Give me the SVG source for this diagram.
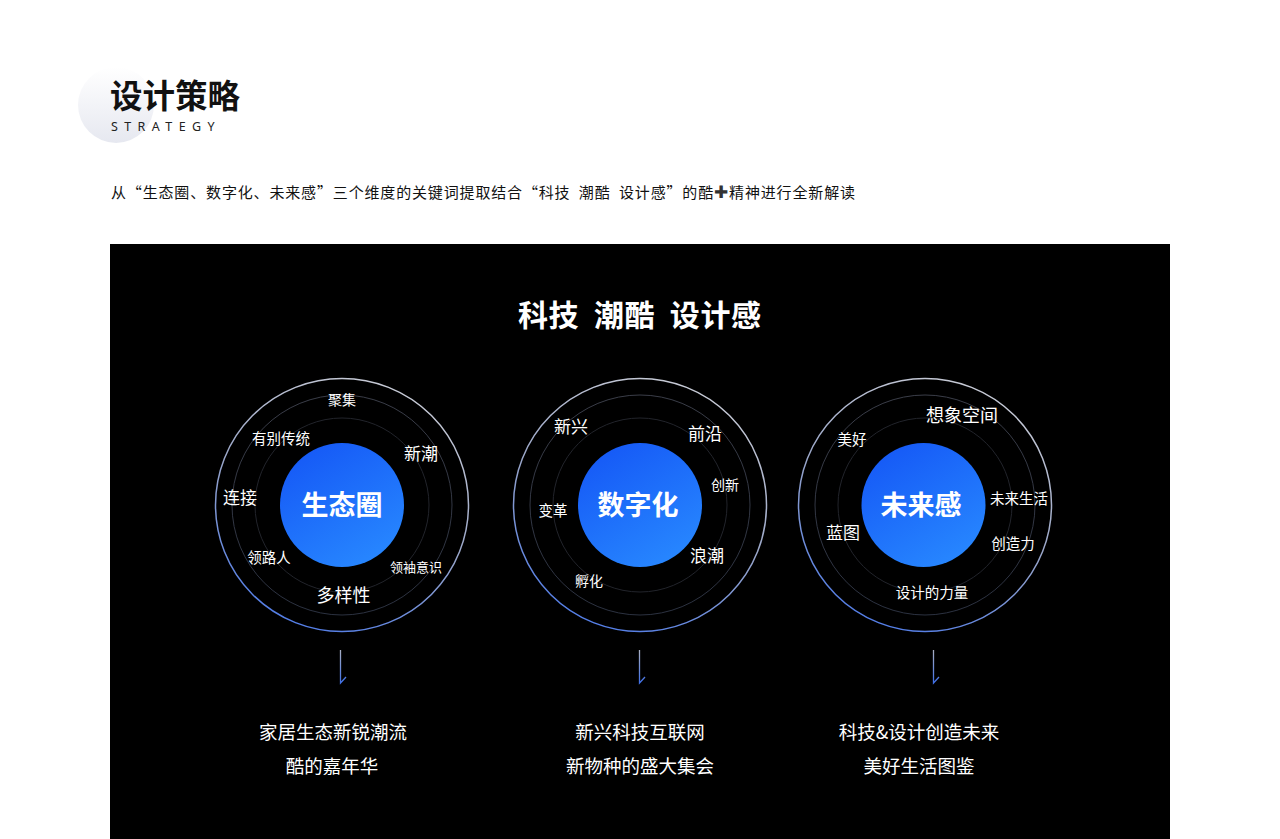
<svg xmlns="http://www.w3.org/2000/svg" width="1280" height="839" viewBox="0 0 1280 839">
<defs>
<linearGradient id="hdr" x1="0" y1="0" x2="0" y2="1">
<stop offset="0" stop-color="#ffffff"/>
<stop offset="1" stop-color="#e6e8f0"/>
</linearGradient>
<linearGradient id="blue" x1="0.2" y1="0" x2="0.8" y2="1">
<stop offset="0" stop-color="#1558f6"/>
<stop offset="1" stop-color="#2889ff"/>
</linearGradient>
<linearGradient id="outer" x1="0.7" y1="0" x2="0.3" y2="1">
<stop offset="0" stop-color="#c9ccd6"/>
<stop offset="0.5" stop-color="#9aa6c8"/>
<stop offset="1" stop-color="#4f7be8"/>
</linearGradient>
<linearGradient id="mid" x1="0" y1="0" x2="0" y2="1">
<stop offset="0" stop-color="#3a3d48"/>
<stop offset="1" stop-color="#2b3140"/>
</linearGradient>
<linearGradient id="arr" x1="0" y1="0" x2="0" y2="1">
<stop offset="0" stop-color="#a9afc2"/>
<stop offset="1" stop-color="#3f6fe6"/>
</linearGradient>
</defs>
<style>
text{font-family:"Noto Sans CJK SC","Noto Sans",sans-serif}
.w{fill:#ffffff;text-anchor:middle}
.c{fill:#ffffff;text-anchor:middle;font-weight:700;font-size:27px}
.o{fill:none;stroke:url(#outer);stroke-width:1.5}
.m{fill:none;stroke:url(#mid);stroke-width:1}
.i{fill:none;stroke:#22242b;stroke-width:1}
.a{fill:none;stroke:url(#arr);stroke-width:1.3}
.b{fill:#ffffff;text-anchor:middle;font-size:18.5px}
</style>
<rect width="1280" height="839" fill="#ffffff"/>
<g id="header">
<circle cx="116" cy="105" r="38" fill="url(#hdr)"/>
<text x="110" y="108" font-size="32.5" font-weight="700" fill="#111111">设计策略</text>
<text x="111" y="131" font-size="12.5" fill="#222222" letter-spacing="6.4" style="font-family:'Noto Sans',sans-serif">STRATEGY</text>
<text x="111" y="198" font-size="15" fill="#111111" xml:space="preserve" textLength="744" lengthAdjust="spacing">从“生态圈、数字化、未来感”三个维度的关键词提取结合“科技  潮酷  设计感”的酷<tspan fill="#333333" font-size="17" style="font-family:'DejaVu Sans',sans-serif">✚</tspan>精神进行全新解读</text>
</g>
<rect id="panel" x="110" y="244" width="1060" height="595" fill="#000000"/>
<text id="headline" x="518" y="326" font-size="30" font-weight="700" fill="#ffffff" xml:space="preserve" textLength="243" lengthAdjust="spacing">科技  潮酷  设计感</text>
<g id="node-shengtaiquan">
<circle class="o" cx="342" cy="505" r="126.5"/>
<circle class="m" cx="342" cy="505" r="110"/>
<circle class="i" cx="342" cy="505" r="87"/>
<circle cx="342" cy="505" r="62" fill="url(#blue)"/>
<text class="c" x="342" y="515">生态圈</text>
<text class="w" x="342" y="405" font-size="14">聚集</text>
<text class="w" x="281" y="444" font-size="14.5">有别传统</text>
<text class="w" x="421" y="460" font-size="17">新潮</text>
<text class="w" x="240" y="504" font-size="17">连接</text>
<text class="w" x="269" y="563" font-size="14.5">领路人</text>
<text class="w" x="416" y="572" font-size="13">领袖意识</text>
<text class="w" x="343.5" y="602" font-size="18">多样性</text>
</g>
<g id="node-shuzihua">
<circle class="o" cx="640" cy="505" r="126.5"/>
<circle class="m" cx="640" cy="505" r="110"/>
<circle class="i" cx="640" cy="505" r="87"/>
<circle cx="640" cy="505" r="62" fill="url(#blue)"/>
<text class="c" x="638" y="515">数字化</text>
<text class="w" x="571" y="433" font-size="17">新兴</text>
<text class="w" x="705" y="440" font-size="17">前沿</text>
<text class="w" x="725" y="490" font-size="14">创新</text>
<text class="w" x="553" y="516" font-size="14.5">变革</text>
<text class="w" x="707" y="562" font-size="17">浪潮</text>
<text class="w" x="589" y="586" font-size="14">孵化</text>
</g>
<g id="node-weilaigan">
<circle class="o" cx="925" cy="505" r="126.5"/>
<circle class="m" cx="925" cy="505" r="110"/>
<circle class="i" cx="925" cy="505" r="87"/>
<circle cx="923.5" cy="505" r="62" fill="url(#blue)"/>
<text class="c" x="921" y="515">未来感</text>
<text class="w" x="962" y="422" font-size="18">想象空间</text>
<text class="w" x="852" y="445" font-size="14.5">美好</text>
<text class="w" x="1019" y="504" font-size="14.5">未来生活</text>
<text class="w" x="843" y="539" font-size="17">蓝图</text>
<text class="w" x="1013" y="549" font-size="14.5">创造力</text>
<text class="w" x="932" y="598" font-size="14.5">设计的力量</text>
</g>
<g id="connectors">
<path class="a" d="M340.5 650 V683 L346 677"/>
<path class="a" d="M639.5 650 V683 L645 677"/>
<path class="a" d="M933.5 650 V683 L939 677"/>
</g>
<g id="caption-1">
<text class="b" x="333" y="739">家居生态新锐潮流</text>
<text class="b" x="332" y="773">酷的嘉年华</text>
</g>
<g id="caption-2">
<text class="b" x="640" y="739">新兴科技互联网</text>
<text class="b" x="640" y="773">新物种的盛大集会</text>
</g>
<g id="caption-3">
<text class="b" x="919" y="739">科技&amp;设计创造未来</text>
<text class="b" x="919" y="773">美好生活图鉴</text>
</g>
</svg>
